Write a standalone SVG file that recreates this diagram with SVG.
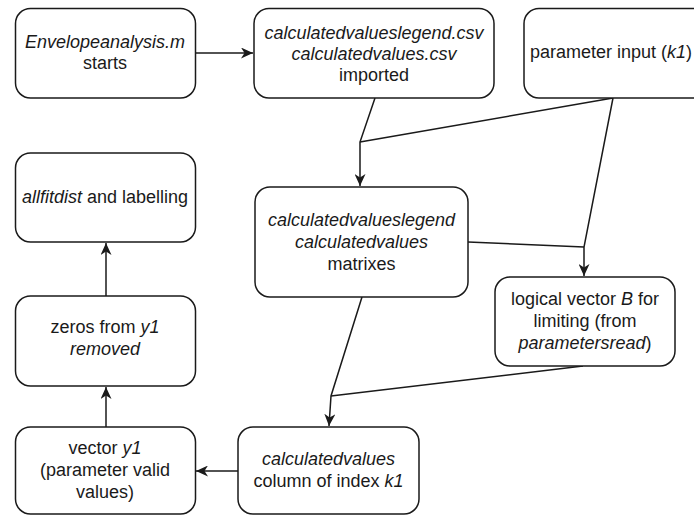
<svg xmlns="http://www.w3.org/2000/svg" width="694" height="515" viewBox="0 0 694 515">
<style>
.box{fill:#fff;stroke:#1a1a1a;stroke-width:1.5}
text{font-family:"Liberation Sans",Arial,sans-serif;font-size:18px;fill:#1a1a1a;text-anchor:middle}
.i{font-style:italic}
.c{fill:none;stroke:#1a1a1a;stroke-width:1.5}
</style>
<defs>
<marker id="a" markerUnits="userSpaceOnUse" markerWidth="13" markerHeight="11" refX="12" refY="5.5" orient="auto">
<path d="M0,0 L12,5.5 L0,11 L3.5,5.5 Z" fill="#1a1a1a"/>
</marker>
</defs>
<rect width="694" height="515" fill="#fff"/>
<g id="connectors">
<line class="c" x1="195" y1="53" x2="253" y2="53" marker-end="url(#a)"/>
<polyline class="c" points="375,98 360,142 360,186" marker-end="url(#a)"/>
<line class="c" x1="613" y1="98" x2="360" y2="142"/>
<polyline class="c" points="613,98 584,247 584,276" marker-end="url(#a)"/>
<line class="c" x1="468" y1="242" x2="584" y2="247"/>
<polyline class="c" points="362,297 331,396 329,426" marker-end="url(#a)"/>
<line class="c" x1="583" y1="366" x2="331" y2="396"/>
<line class="c" x1="238" y1="471" x2="196" y2="471" marker-end="url(#a)"/>
<line class="c" x1="106" y1="427" x2="106" y2="387" marker-end="url(#a)"/>
<line class="c" x1="106" y1="296" x2="106" y2="243" marker-end="url(#a)"/>
</g>
<g id="n1"><rect class="box" x="15.5" y="8.5" width="180" height="89.5" rx="15"/>
<text x="105" y="48"><tspan class="i">Envelopeanalysis.m</tspan></text>
<text x="105" y="69">starts</text></g>
<g id="n2"><rect class="box" x="254" y="8.5" width="240" height="89.5" rx="15"/>
<text x="374" y="39" class="i">calculatedvalueslegend.csv</text>
<text x="374" y="60" class="i">calculatedvalues.csv</text>
<text x="374" y="81">imported</text></g>
<g id="n3"><rect class="box" x="524" y="8.5" width="190" height="89.5" rx="15"/>
<text x="611" y="58">parameter input (<tspan class="i">k1</tspan>)</text></g>
<g id="n4"><rect class="box" x="15.5" y="153" width="180" height="89" rx="15"/>
<text x="105" y="203"><tspan class="i">allfitdist</tspan> and labelling</text></g>
<g id="n5"><rect class="box" x="255" y="187" width="213" height="110" rx="15"/>
<text x="361.5" y="226" class="i">calculatedvalueslegend</text>
<text x="361.5" y="248" class="i">calculatedvalues</text>
<text x="361.5" y="270">matrixes</text></g>
<g id="n6"><rect class="box" x="495" y="277" width="180" height="89" rx="15"/>
<text x="585" y="305">logical vector <tspan class="i">B</tspan> for</text>
<text x="585" y="327">limiting (from</text>
<text x="585" y="349"><tspan class="i">parametersread</tspan>)</text></g>
<g id="n7"><rect class="box" x="15.5" y="296" width="180" height="90" rx="15"/>
<text x="105" y="333">zeros from <tspan class="i">y1</tspan></text>
<text x="105" y="355" class="i">removed</text></g>
<g id="n8"><rect class="box" x="15.5" y="427" width="180" height="87" rx="15"/>
<text x="105" y="454">vector <tspan class="i">y1</tspan></text>
<text x="105" y="476">(parameter valid</text>
<text x="105" y="498">values)</text></g>
<g id="n9"><rect class="box" x="238" y="427" width="181" height="87" rx="15"/>
<text x="328.5" y="465" class="i">calculatedvalues</text>
<text x="328.5" y="487">column of index <tspan class="i">k1</tspan></text></g>
</svg>
